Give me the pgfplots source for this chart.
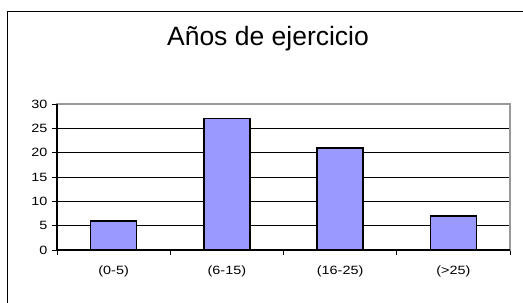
\documentclass[border=0pt]{standalone}
\usepackage{pgfplots}
\pgfplotsset{compat=1.18}
\usepackage{fontspec}
\setmainfont{Liberation Sans}
\newfontfamily\tickfont[FakeStretch=1.2]{Liberation Sans}
\definecolor{barblue}{HTML}{9999FF}
\begin{document}
\begin{tikzpicture}[x=1pt,y=1pt]
\useasboundingbox (0,0) rectangle (523,303);
\clip (0,0) rectangle (523,303);
\draw[black, line width=1pt] (7,-20) -- (7,291) -- (560,291);
\node[font=\fontsize{26.5}{30}\selectfont] at (268,264) {Años de ejercicio};
\begin{axis}[
  at={(57pt,53pt)}, anchor=south west,
  scale only axis, width=453pt, height=146pt,
  xmin=-0.5, xmax=3.5, ymin=0, ymax=30,
  ytick={0,5,...,30},
  xtick={-0.5,0.5,1.5,2.5,3.5},
  x tick label as interval,
  xticklabels={(0-5),(6-15),(16-25),(>25)},
  major tick length=5pt,
  tick align=outside,
  ytick pos=left,
  xtick pos=bottom,
  tick style={black, line width=0.8pt},
  ymajorgrids,
  major grid style={black, line width=0.8pt},
  axis line style={draw=gray!80, line width=1.5pt},
  ticklabel style={font=\tickfont\fontsize{12}{14}\selectfont},
  yticklabel style={xshift=-1pt},
  xticklabel style={yshift=-7pt},
  /pgf/number format/assume math mode=true,
  ybar, bar width=46pt,
  clip=false,
]
\addplot[fill=barblue, draw=black, line width=1.6pt] coordinates {(0,6) (1,27) (2,21) (3,7)};
\draw[black, line width=1.2pt] (rel axis cs:0,1) -- (rel axis cs:0,0) -- (rel axis cs:1,0);
\end{axis}
\end{tikzpicture}
\end{document}
